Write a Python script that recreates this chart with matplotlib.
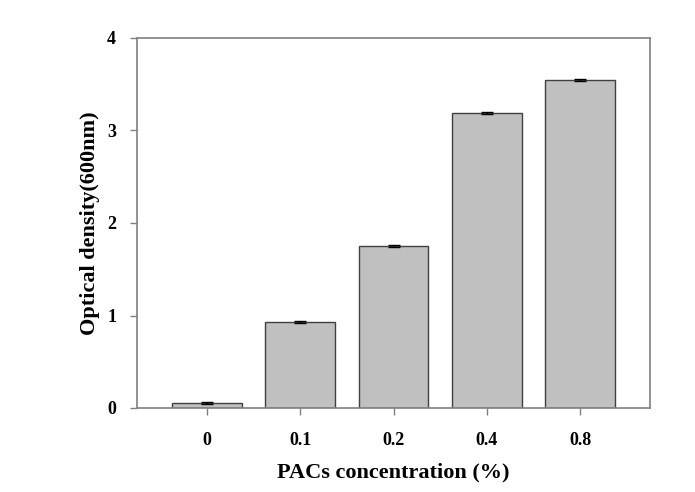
import matplotlib
matplotlib.use("Agg")
import matplotlib.pyplot as plt
import numpy as np

categories = ["0", "0.1", "0.2", "0.4", "0.8"]
values = [0.05, 0.93, 1.75, 3.19, 3.55]
errors = [0.01, 0.01, 0.01, 0.01, 0.01]
yticks = [0, 1, 2, 3, 4]

plt.rcParams['font.family'] = ['Liberation Serif', 'DejaVu Serif']
plt.rcParams['font.weight'] = 'bold'

fig = plt.figure(figsize=(6.95, 4.92), dpi=100)
ax = fig.add_axes([137/695, 1 - 408/492, (650-137)/695, (408-38)/492])

x = np.arange(len(categories))
ax.bar(x, values, width=0.75, color='#c0c0c0', edgecolor='#404040', linewidth=1.0,
       yerr=errors, error_kw=dict(ecolor='black', capsize=4, elinewidth=1, capthick=1.0))

ax.set_xlim(-0.75, 4.75)
ax.set_ylim(0, 4)
ax.set_xticks(x)
ax.set_xticklabels(categories)
ax.set_yticks(yticks)
ax.set_yticklabels([str(t) for t in yticks])
for s in ax.spines.values():
    s.set_color('#808080')
    s.set_linewidth(1.2)
ax.tick_params(direction='out', length=5, width=1, color='#808080', labelsize=13, pad=10)
ax.tick_params(axis='x', pad=12)
for lab in ax.get_xticklabels() + ax.get_yticklabels():
    lab.set_fontweight('bold')

ax.set_xlabel("PACs concentration (%)", fontsize=16, fontweight='bold', labelpad=10)
ax.set_ylabel("Optical density(600nm)", fontsize=16, fontweight='bold', labelpad=5)

fig.savefig("out.png", dpi=100)
